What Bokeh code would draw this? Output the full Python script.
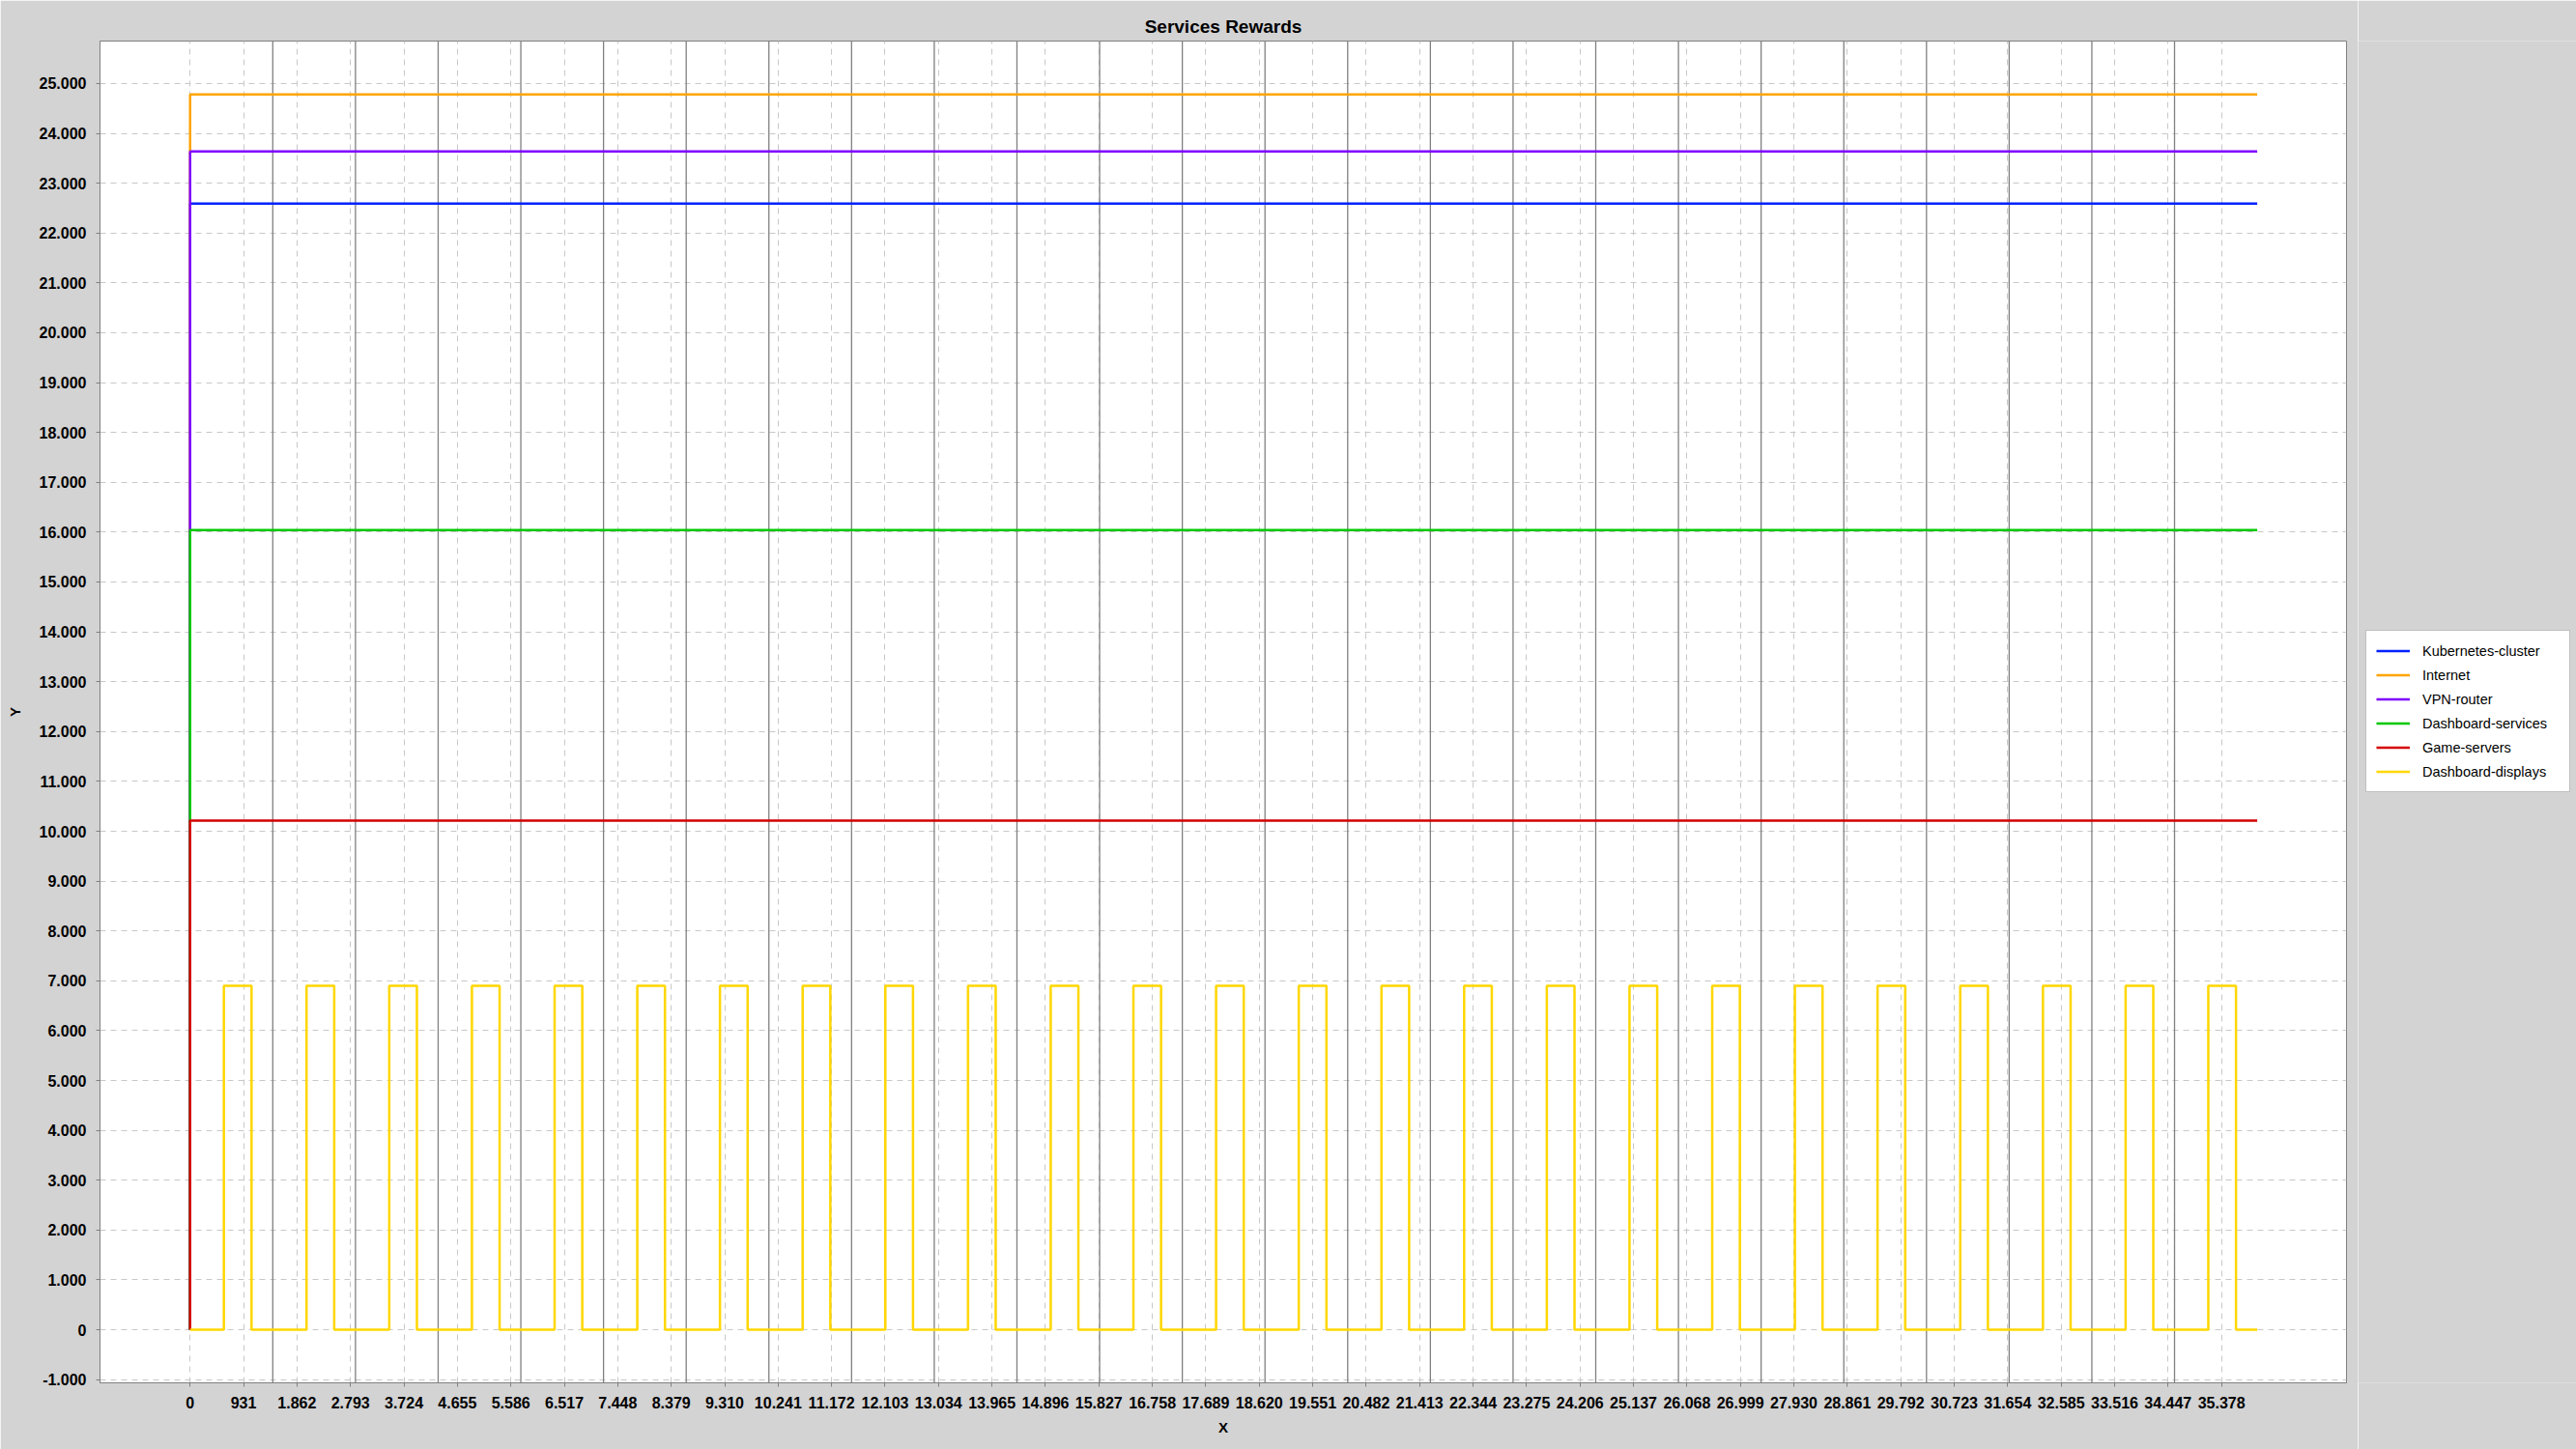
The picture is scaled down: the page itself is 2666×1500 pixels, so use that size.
from bokeh.plotting import figure
from bokeh.layouts import row
from bokeh.models import Range1d, FixedTicker, Span, Legend, LegendItem
from bokeh.embed import file_html
from bokeh.resources import INLINE

# ---------------- data ----------------
series_names = ["Kubernetes-cluster", "Internet", "VPN-router",
                "Dashboard-services", "Game-servers", "Dashboard-displays"]
series_colors = ["#0022FF", "#FFA500", "#7F00FF", "#00C800", "#D40000", "#FFD700"]

# constant series: start at (0, 0), jump to level, hold until the end
constant_levels = [22592, 24781, 23638, 16040, 10213]
x_start = 0
x_end = 36000

# Dashboard-displays: on/off square wave (step "after")
displays_x = [0, 588, 1070, 2028, 2510, 3468, 3950, 4908, 5390, 6348, 6830,
              7788, 8270, 9228, 9710, 10668, 11150, 12108, 12590, 13548, 14030,
              14988, 15470, 16428, 16910, 17868, 18350, 19308, 19790, 20748, 21230,
              22188, 22670, 23628, 24110, 25068, 25550, 26508, 26990, 27948, 28430,
              29388, 29870, 30828, 31310, 32268, 32750, 33708, 34190, 35148, 35630,
              36000]
displays_y = [0, 6900, 0, 6900, 0, 6900, 0, 6900, 0, 6900, 0,
              6900, 0, 6900, 0, 6900, 0, 6900, 0, 6900, 0,
              6900, 0, 6900, 0, 6900, 0, 6900, 0, 6900, 0,
              6900, 0, 6900, 0, 6900, 0, 6900, 0, 6900, 0,
              6900, 0, 6900, 0, 6900, 0, 6900, 0, 6900, 0,
              0]

# vertical day markers
day_markers = [1440, 2880, 4320, 5760, 7200, 8640, 10080, 11520, 12960, 14400,
               15840, 17280, 18720, 20160, 21600, 23040, 24480, 25920, 27360,
               28800, 30240, 31680, 33120, 34560]

x_ticks = [0, 931, 1862, 2793, 3724, 4655, 5586, 6517, 7448, 8379, 9310, 10241,
           11172, 12103, 13034, 13965, 14896, 15827, 16758, 17689, 18620, 19551,
           20482, 21413, 22344, 23275, 24206, 25137, 26068, 26999, 27930, 28861,
           29792, 30723, 31654, 32585, 33516, 34447, 35378]
x_tick_labels = ["0", "931", "1.862", "2.793", "3.724", "4.655", "5.586", "6.517",
                 "7.448", "8.379", "9.310", "10.241", "11.172", "12.103", "13.034",
                 "13.965", "14.896", "15.827", "16.758", "17.689", "18.620", "19.551",
                 "20.482", "21.413", "22.344", "23.275", "24.206", "25.137", "26.068",
                 "26.999", "27.930", "28.861", "29.792", "30.723", "31.654", "32.585",
                 "33.516", "34.447", "35.378"]
y_ticks = [-1000, 0, 1000, 2000, 3000, 4000, 5000, 6000, 7000, 8000, 9000, 10000,
           11000, 12000, 13000, 14000, 15000, 16000, 17000, 18000, 19000, 20000,
           21000, 22000, 23000, 24000, 25000]
y_tick_labels = ["-1.000", "0", "1.000", "2.000", "3.000", "4.000", "5.000", "6.000",
                 "7.000", "8.000", "9.000", "10.000", "11.000", "12.000", "13.000",
                 "14.000", "15.000", "16.000", "17.000", "18.000", "19.000", "20.000",
                 "21.000", "22.000", "23.000", "24.000", "25.000"]

FONT = "Liberation Sans"
BG = "#D3D3D3"

# ---------------- main figure ----------------
p = figure(width=2440, height=1500, output_backend="svg", toolbar_location=None,
           x_range=Range1d(-1569, 37555), y_range=Range1d(-1065, 25852),
           min_border_left=103, min_border_right=12, min_border_top=42,
           min_border_bottom=69)
p.background_fill_color = "white"
p.border_fill_color = BG
p.outline_line_color = "#808080"
p.outline_line_width = 1

p.title.text = "Services Rewards"
p.title.align = "center"
p.title.text_font = FONT
p.title.text_font_size = "19px"
p.title.text_font_style = "bold"
p.title.text_color = "black"

for ax in (p.xaxis[0], p.yaxis[0]):
    ax.axis_line_color = "#808080"
    ax.major_tick_line_color = "#808080"
    ax.minor_tick_line_color = None
    ax.major_tick_in = 0
    ax.major_tick_out = 4
    ax.major_label_standoff = 10
    ax.major_label_text_font = FONT
    ax.major_label_text_font_size = "16px"
    ax.major_label_text_font_style = "bold"
    ax.major_label_text_color = "black"
    ax.axis_label_text_font = FONT
    ax.axis_label_text_font_size = "15px"
    ax.axis_label_text_font_style = "bold"
    ax.axis_label_text_color = "black"

p.xaxis.ticker = FixedTicker(ticks=x_ticks)
p.xaxis.major_label_overrides = dict(zip(x_ticks, x_tick_labels))
p.xaxis.axis_label = "X"
p.xaxis.axis_label_standoff = 8
p.yaxis.ticker = FixedTicker(ticks=y_ticks)
p.yaxis.major_label_overrides = dict(zip(y_ticks, y_tick_labels))
p.yaxis.axis_label = "Y"
p.yaxis.axis_label_standoff = 14

for g in (p.xgrid[0], p.ygrid[0]):
    g.grid_line_color = "#C8C8C8"
    g.grid_line_dash = "6 5"
    g.grid_line_width = 1

for xm in day_markers:
    p.add_layout(Span(location=xm, dimension="height", line_color="#808080",
                      line_width=1.3, level="underlay"))

for name, color, lvl in zip(series_names[:5], series_colors[:5], constant_levels):
    p.line([x_start, x_start, x_end], [0, lvl, lvl], line_color=color,
           line_width=2.5)
p.step(displays_x, displays_y, mode="after", line_color=series_colors[5],
       line_width=2.5)

# ---------------- legend panel (right strip) ----------------
q = figure(width=226, height=1500, output_backend="svg", toolbar_location=None,
           x_range=Range1d(0, 1), y_range=Range1d(0, 1),
           min_border_left=0, min_border_right=0, min_border_top=0,
           min_border_bottom=0)
q.axis.visible = False
q.grid.visible = False
q.background_fill_color = BG
q.background_fill_alpha = 1
q.border_fill_color = BG
q.outline_line_color = None

# legend key lines (placed outside the visible range of this strip)
legend_renderers = [q.line(x=[-5, -4], y=[-5, -5], line_color=c, line_width=2.5)
                    for c in series_colors]
legend = Legend(items=[LegendItem(label=n, renderers=[rr])
                       for n, rr in zip(series_names, legend_renderers)],
                location=(8, 611))
legend.background_fill_color = "white"
legend.background_fill_alpha = 1
legend.border_line_color = "#808080"
legend.border_line_width = 1
legend.label_text_font = FONT
legend.label_text_font_size = "14.5px"
legend.label_text_color = "black"
legend.glyph_width = 35
legend.glyph_height = 21
legend.label_height = 21
legend.label_width = 142
legend.label_standoff = 13
legend.spacing = 4
legend.padding = 10
legend.margin = 0
q.add_layout(legend)

layout = row(p, q, spacing=0)
open("out.html", "w").write(file_html(layout, INLINE))
